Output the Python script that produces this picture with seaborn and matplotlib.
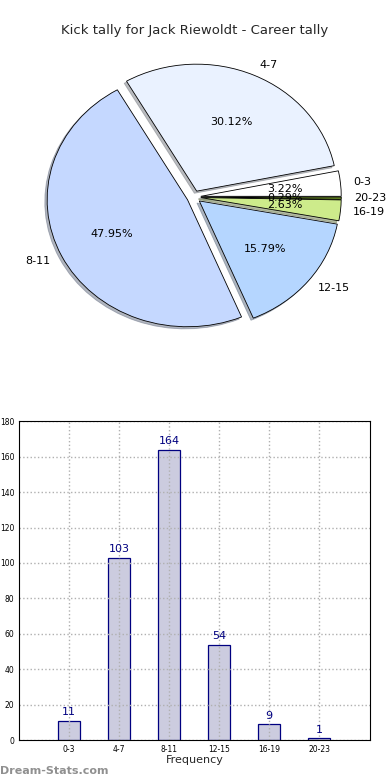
import matplotlib
matplotlib.use("Agg")
import matplotlib.pyplot as plt
import seaborn as sns

sns.set_theme(style="white")
plt.rcParams['font.family'] = ['DejaVu Sans']

# data
categories = ["0-3", "4-7", "8-11", "12-15", "16-19", "20-23"]
kicks = [11, 103, 164, 54, 9, 1]
pie_colors = ["#ffffff", "#eaf2ff", "#c5d8ff", "#b5d6ff", "#cdeb8b", "#6b8e23"]
y_ticks = list(range(0, 181, 20))

fig = plt.figure(figsize=(3.9, 7.8), dpi=100)
fig.patch.set_facecolor("white")

# pie
ax1 = fig.add_axes([0.047, 0.544, 0.9, 0.407])
wedges, texts, autotexts = ax1.pie(
    kicks, labels=categories, colors=pie_colors,
    explode=[0.05] * len(kicks),
    shadow={"ox": -0.012, "oy": -0.012, "shade": 0.5},
    autopct="%1.2f%%",
    startangle=0, counterclock=True, labeldistance=1.09,
    wedgeprops=dict(edgecolor="black", linewidth=0.6),
    textprops=dict(fontsize=8, color="black"),
)
ax1.set_aspect("auto")
fig.text(0.5, 0.961, "Kick tally for Jack Riewoldt - Career tally",
         ha="center", va="center", fontsize=9.5)

# bars
ax2 = fig.add_axes([0.049, 0.051, 0.9, 0.409])
x = list(range(len(categories)))
sns.barplot(x=x, y=kicks, ax=ax2, color="#ccccdf", width=0.45,
            edgecolor="#000080", linewidth=0.9, saturation=1, native_scale=True)
for xi, v in zip(x, kicks):
    ax2.text(xi, v + 2, str(v), ha="center", va="bottom", color="#000080", fontsize=8)
ax2.set_xlim(-1, 6.02)
ax2.set_ylim(0, 180)
ax2.set_xticks(x)
ax2.set_xticklabels(categories, fontsize=5.5)
ax2.set_yticks(y_ticks)
ax2.set_yticklabels([str(t) for t in y_ticks], fontsize=5.5)
ax2.set_axisbelow(False)
ax2.grid(True, linestyle=":", color="#b0b0b0", linewidth=1)
for s in ax2.spines.values():
    s.set_color("black")
    s.set_linewidth(0.8)
    s.set_zorder(5)
ax2.tick_params(axis="both", length=2, pad=1.5, colors="black")
ax2.set_xlabel("Frequency", fontsize=8, labelpad=1)
ax2.set_ylabel("")

fig.text(0.0, 0.012, "Dream-Stats.com", fontsize=8, color="#909090",
         fontweight="bold", ha="left", va="center")

fig.savefig("out.png", dpi=100)
